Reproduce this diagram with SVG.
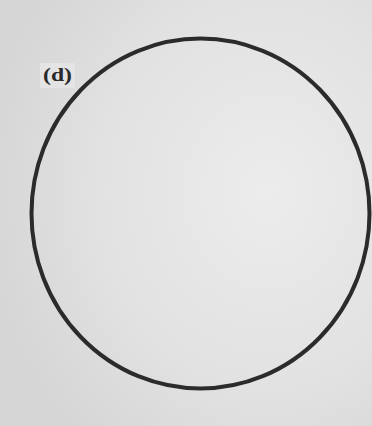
<svg xmlns="http://www.w3.org/2000/svg" width="372" height="426" viewBox="0 0 372 426">
  <defs>
    <radialGradient id="bg" cx="0.72" cy="0.45" r="0.75">
      <stop offset="0" stop-color="#ececec"/>
      <stop offset="0.6" stop-color="#e2e2e2"/>
      <stop offset="1" stop-color="#d6d6d6"/>
    </radialGradient>
  </defs>
  <style>
    .label { font-family: "Liberation Serif", "Times New Roman", serif; font-weight: bold; font-size: 19px; fill: #2a2a2a; }
    .ring { fill: none; stroke: #2b2b2b; stroke-width: 4; }
  </style>
  <rect x="0" y="0" width="372" height="426" fill="url(#bg)"/>
  <g id="label-d">
    <rect x="40" y="63" width="35" height="25" fill="#e4e4e4"/>
    <text class="label" x="43" y="81" textLength="29" lengthAdjust="spacingAndGlyphs">(d)</text>
  </g>
  <g id="circle">
    <ellipse class="ring" cx="200.5" cy="213.5" rx="169" ry="175"/>
  </g>
</svg>
